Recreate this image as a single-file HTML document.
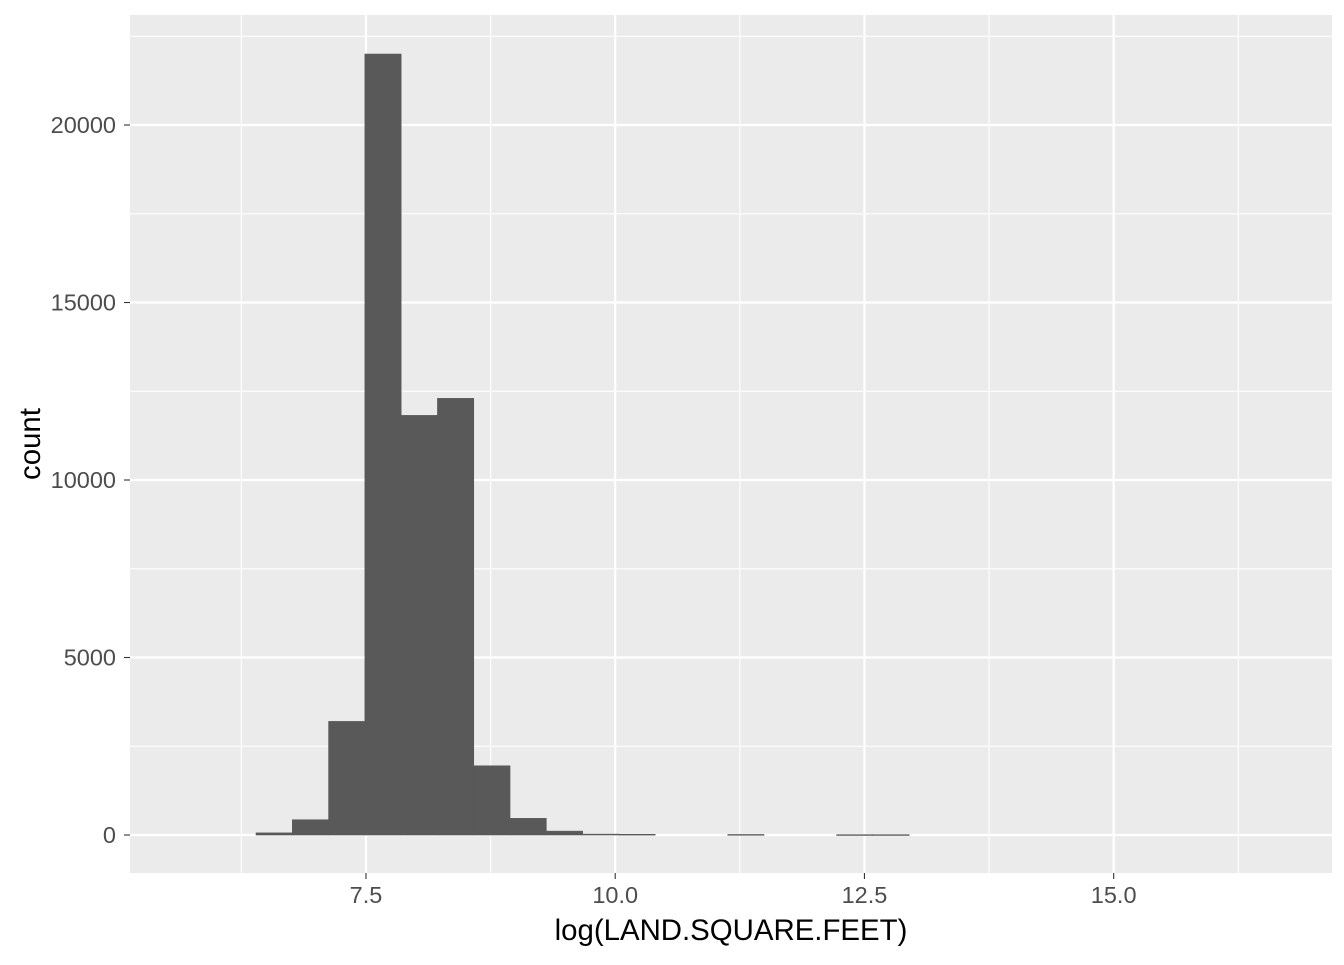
<!DOCTYPE html>
<html><head><meta charset="utf-8"><style>
body{margin:0;background:#fff;font-family:"Liberation Sans",sans-serif}
</style></head><body>
<svg id="c" width="1344" height="960" xmlns="http://www.w3.org/2000/svg"></svg>
<script>
const binStart = 6.397;
const binWidth = 0.364;
const counts = [60,430,3200,22000,11820,12300,1950,470,110,25,20,0,0,15,0,0,10,10];
const xTicks = [7.5,10.0,12.5,15.0];
const xTickLabels = ["7.5","10.0","12.5","15.0"];
const yTicks = [0,5000,10000,15000,20000];
const yTickLabels = ["0","5000","10000","15000","20000"];
const L=130,R=1332,T=15,B=873;
const xMin=5.133,xMax=17.19,yMin=-1070,yMax=23099;
const xs=v=>L+(v-xMin)/(xMax-xMin)*(R-L);
const ys=v=>B-(v-yMin)/(yMax-yMin)*(B-T);
const svg=document.getElementById('c');
const NS="http://www.w3.org/2000/svg";
function mk(t,a){const e=document.createElementNS(NS,t);for(const k in a)e.setAttribute(k,a[k]);svg.appendChild(e);return e;}
let e=mk('rect',{x:L,y:T,width:R-L,height:B-T,fill:'#ebebeb'});


for(let i=0;i<xTicks.length+1;i++){const v=xTicks[0]-1.25+i*2.5;
 e=mk('line',{x1:xs(v),x2:xs(v),y1:T,y2:B,stroke:'#fff','stroke-width':1.1});
 
 }
for(let i=0;i<yTicks.length;i++){const v=yTicks[i]+2500;
 e=mk('line',{x1:L,x2:R,y1:ys(v),y2:ys(v),stroke:'#fff','stroke-width':1.1});
 
 }
xTicks.forEach((v,i)=>{
 e=mk('line',{x1:xs(v),x2:xs(v),y1:T,y2:B,stroke:'#fff','stroke-width':2.2});
 
 
 e=mk('line',{x1:xs(v),x2:xs(v),y1:B,y2:B+6,stroke:'#333','stroke-width':1.1});
 
 
 e=mk('text',{x:xs(v),y:B+30,'text-anchor':'middle','font-size':23.5,fill:'#4d4d4d'});
 e.textContent=xTickLabels[i];
 
 });
yTicks.forEach((v,i)=>{
 e=mk('line',{x1:L,x2:R,y1:ys(v),y2:ys(v),stroke:'#fff','stroke-width':2.2});
 
 
 e=mk('line',{x1:L-6,x2:L,y1:ys(v),y2:ys(v),stroke:'#333','stroke-width':1.1});
 
 
 e=mk('text',{x:L-14,y:ys(v)+8,'text-anchor':'end','font-size':23.5,fill:'#4d4d4d'});
 e.textContent=yTickLabels[i];
 
 });
counts.forEach((c,i)=>{if(c<=0)return;
 const x0=xs(binStart+i*binWidth),x1=xs(binStart+(i+1)*binWidth);
 e=mk('rect',{x:x0,y:ys(c),width:x1-x0,height:Math.max(ys(0)-ys(c),0.8),fill:'#595959',stroke:'#595959','stroke-width':0.6});
 
 });
e=mk('text',{x:(L+R)/2,y:940,'text-anchor':'middle','font-size':29.4,fill:'#000'});
e.textContent='log(LAND.SQUARE.FEET)';


e=mk('text',{x:0,y:0,'text-anchor':'middle','font-size':29.4,fill:'#000',transform:`translate(40,${(T+B)/2}) rotate(-90)`});
e.textContent='count';


</script>
</body></html>
